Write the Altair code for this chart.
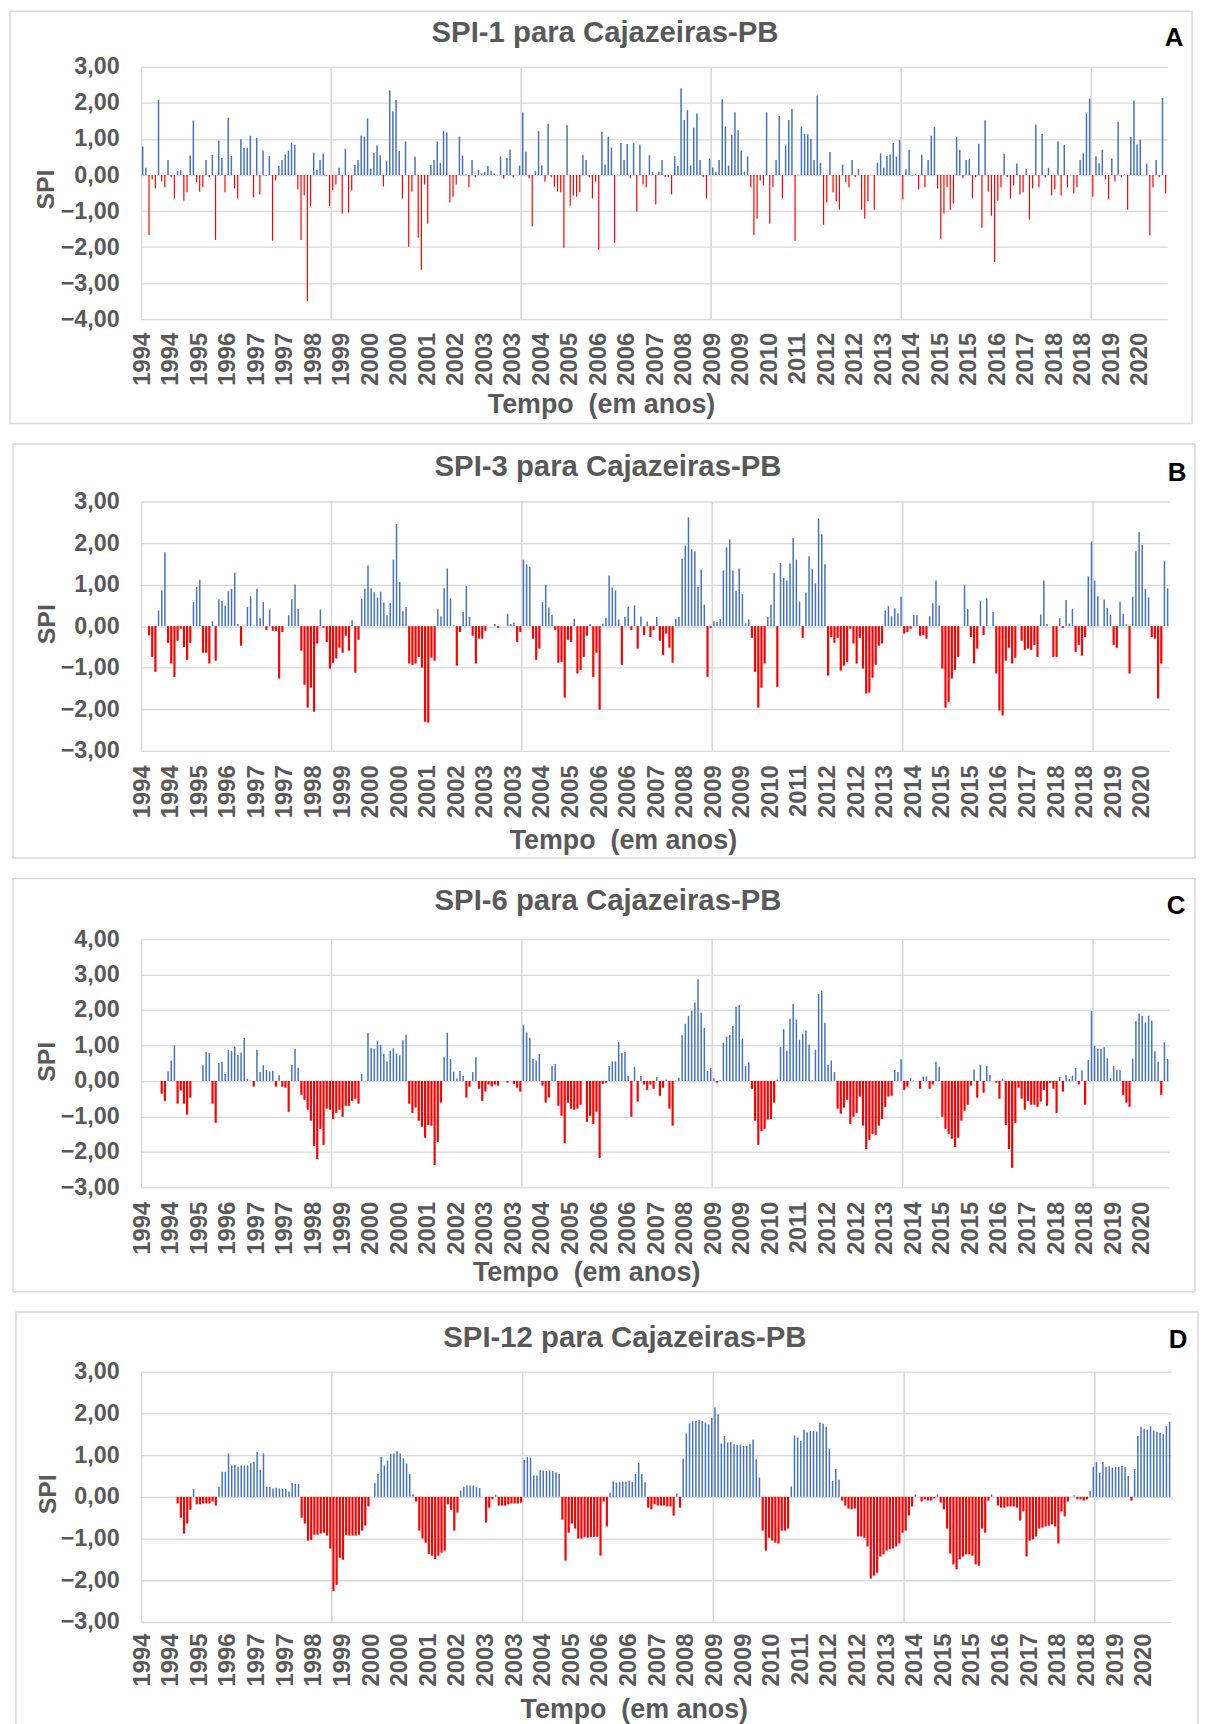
import json
import altair as alt
import pandas as pd

# ---------------- categories / tick labels ----------------
years = list(range(1994, 2021))
months = [f"{y}-{m:02d}" for y in years for m in range(1, 13)]  # 324 monthly categories
tick_months = months[::9]
tick_labels = ["1994", "1994", "1995", "1996", "1997", "1997", "1998", "1999", "2000",
               "2000", "2001", "2002", "2003", "2003", "2004", "2005", "2006", "2006",
               "2007", "2008", "2009", "2009", "2010", "2011", "2012", "2012", "2013",
               "2014", "2015", "2015", "2016", "2017", "2018", "2018", "2019", "2020"]
grid_months = ["1999-01", "2004-01", "2009-01", "2014-01", "2019-01"]

titles = ["SPI-1 para Cajazeiras-PB", "SPI-3 para Cajazeiras-PB",
          "SPI-6 para Cajazeiras-PB", "SPI-12 para Cajazeiras-PB"]
letters = ["A", "B", "C", "D"]
x_title = "Tempo \u00a0(em anos)"
y_title = "SPI"

N = None
# ---------------- series values ----------------
spi1 = [
    0.79, 0.20, -1.66, -0.12, -0.37, 2.09, -0.18, -0.34, 0.42, -0.06,
    -0.65, 0.12, 0.14, -0.71, -0.48, 0.54, 1.51, -0.20, -0.46, -0.34,
    0.42, -0.06, 0.56, -1.80, 0.96, 0.47, -0.48, 1.59, 0.53, -0.37,
    -0.65, 0.99, 0.75, 0.76, 1.09, -0.62, 1.03, -0.54, 0.68, -0.02,
    0.53, -1.82, -0.15, 0.25, 0.42, 0.57, 0.68, 0.90, 0.84, -0.40,
    -1.80, -0.57, -3.50, -0.87, 0.62, 0.14, 0.42, 0.59, -0.02, -0.86,
    -0.42, -0.26, 0.20, -1.07, 0.73, -1.04, -0.43, 0.28, 0.42, 1.10,
    1.07, 1.57, 0.18, 0.62, 0.82, 0.55, -0.32, 0.38, 2.35, 1.77,
    2.09, 0.67, -0.65, 0.93, -1.99, -0.46, 0.51, -1.74, -2.63, -0.26,
    -1.35, 0.28, 0.42, 0.93, 0.34, 1.23, 1.18, -0.76, -0.60, -0.26,
    1.07, 0.54, 0.02, -0.34, 0.42, -0.06, 0.14, 0.05, 0.08, 0.25,
    0.12, 0.04, 0.01, 0.52, -0.10, 0.47, 0.71, -0.06, 0.01, 0.26,
    1.74, 0.65, -0.09, -1.43, 0.11, 1.22, 0.27, -0.18, 1.42, -0.06,
    -0.32, -0.46, -0.48, -2.02, 1.38, -0.85, -0.57, -0.60, -0.48, 0.56,
    0.42, -0.06, -0.65, -0.18, -2.07, 1.20, 0.29, 1.07, 0.76, -1.88,
    0.01, 0.89, 0.42, 0.86, -0.09, 0.88, -1.01, 0.85, -0.26, -0.34,
    0.55, 0.09, -0.82, 0.09, 0.42, -0.06, -0.06, -0.54, 0.52, 0.26,
    2.41, 1.53, 1.80, 0.27, 1.31, 1.71, 0.42, -0.06, -0.65, 0.46,
    0.21, 0.09, 0.42, 2.10, 1.35, 0.26, 1.11, 1.74, 1.24, 0.68,
    0.09, 0.52, -0.34, -1.66, -1.21, -0.15, -0.29, 1.74, -1.35, -0.34,
    0.42, 1.64, -0.65, 0.82, 1.53, 1.83, -1.82, 0.01, 1.35, 1.14,
    1.13, 1.01, 0.42, 2.21, 0.34, -1.38, -0.76, 0.64, -0.48, -0.73,
    -0.96, 0.29, -0.20, -0.34, 0.42, -0.06, 0.17, -0.96, -1.21, -0.73,
    0.01, -0.96, 0.34, 0.60, 0.20, 0.53, 0.57, 0.89, 0.51, 0.97,
    -0.68, 0.16, 0.70, -0.02, 0.04, -0.40, 0.57, -0.34, 0.42, 1.09,
    1.33, -0.37, -1.77, -1.07, -0.34, -0.96, -0.79, 1.05, 0.70, -0.09,
    0.42, 0.44, -0.65, -0.06, 0.87, -1.46, 1.52, -0.46, -1.13, -2.41,
    -0.71, -0.34, 0.59, -0.06, -0.65, -0.29, 0.32, -0.54, -0.48, 0.17,
    -1.24, -0.37, 1.40, -0.34, 1.14, -0.06, 0.20, -0.57, -0.40, 0.93,
    -0.57, 0.84, -0.34, 0.01, -0.51, -0.34, 0.42, 0.60, 1.71, 2.12,
    -0.60, 0.52, 0.33, 0.70, -0.12, -0.68, 0.46, -0.18, 1.48, -0.06,
    0.02, -0.96, 1.06, 2.07, 0.85, 0.98, 0.01, 0.32, -1.68, -0.34,
    0.42, -0.06, 2.14, -0.51,
]

spi3 = [
    N, N, -0.22, -0.74, -1.10, 0.38, 0.86, 1.78, -0.40, -0.90,
    -1.22, -0.35, -0.06, -0.50, -0.81, -0.40, 0.58, 0.94, 1.12, -0.64,
    -0.64, -0.90, 0.12, -0.83, 0.65, 0.61, 0.50, 0.84, 0.90, 1.29,
    0.05, -0.47, 0.01, 0.46, 0.72, 0.01, 0.90, 0.19, 0.58, -0.09,
    0.40, -0.11, -0.11, -1.26, -0.14, 0.00, 0.26, 0.65, 1.00, 0.42,
    -0.59, -1.41, -1.96, -1.48, -2.06, -0.42, 0.40, -0.04, -0.38, -1.02,
    -0.88, -0.78, -0.52, -0.64, -0.23, -0.59, 0.14, -1.12, -0.33, 0.66,
    0.90, 1.46, 0.91, 0.82, 0.69, 0.83, 0.57, 0.26, 0.55, 1.60,
    2.46, 1.06, 0.36, 0.46, -0.90, -0.93, -0.90, -0.74, -1.00, -2.30,
    -2.32, -0.76, -0.83, 0.41, 0.24, 0.91, 1.39, 0.67, 0.02, -0.95,
    -0.14, 0.34, 0.97, 0.23, -0.23, -0.90, -0.30, -0.30, -0.11, 0.00,
    0.00, 0.05, -0.04, 0.00, 0.00, 0.30, 0.05, 0.09, -0.38, -0.14,
    1.60, 1.49, 1.43, -0.30, -0.81, -0.54, 0.58, 0.99, 0.45, 0.27,
    -0.09, -0.88, -0.86, -1.72, -0.33, -0.38, 0.18, -1.14, -1.05, -0.74,
    -0.23, 0.05, -1.22, -0.64, -2.01, 0.06, 0.20, 1.22, 0.93, 0.86,
    0.16, -0.93, 0.22, 0.47, -0.09, 0.50, -0.54, 0.23, -0.21, 0.11,
    -0.26, -0.09, 0.22, -0.35, -0.69, -0.18, -0.52, -0.88, 0.17, 0.22,
    1.62, 1.94, 2.62, 1.85, 1.80, 0.94, 1.36, 0.52, -1.22, -0.04,
    0.12, 0.10, 0.17, 1.34, 1.90, 2.09, 1.34, 0.85, 1.39, 0.77,
    0.07, 0.16, -0.28, -1.10, -1.96, -1.48, -0.90, 0.22, 0.52, 1.28,
    -1.46, 1.52, 1.16, 1.10, 1.51, 2.12, 1.60, 0.59, -0.28, 0.81,
    1.68, 1.37, 1.03, 2.59, 2.21, 1.49, -1.19, -0.26, -0.40, -0.28,
    -1.07, -0.95, -0.86, -0.06, -0.42, -0.90, -0.28, -1.02, -1.62, -1.60,
    -1.24, -0.93, -0.47, -0.42, 0.38, 0.48, 0.24, 0.43, 0.31, 0.71,
    -0.18, -0.14, -0.06, 0.26, 0.26, -0.23, -0.21, -0.30, 0.24, 0.55,
    1.10, 0.50, -1.02, -1.96, -1.82, -1.26, -1.05, -0.74, 0.00, 0.98,
    0.41, -0.26, -0.90, -0.54, 0.60, -0.21, 0.67, 0.00, 0.34, -1.14,
    -2.03, -2.15, -0.83, -0.52, -0.90, -0.76, 0.00, -0.35, -0.57, -0.54,
    -0.57, -0.45, -0.74, 0.28, 1.10, 0.05, 0.00, -0.74, -0.74, 0.19,
    -0.04, 0.63, 0.06, 0.42, -0.62, -0.45, -0.71, -0.26, 1.20, 2.04,
    1.10, 0.72, 0.00, 0.64, 0.44, 0.27, -0.45, -0.52, 0.59, 0.30,
    0.05, -1.14, 0.71, 1.80, 2.26, 1.96, 0.90, 0.69, -0.26, -0.30,
    -1.74, -0.90, 1.56, 0.91,
]

spi6 = [
    N, N, N, N, N, 0.00, -0.36, -0.56, 0.27, 0.58,
    1.00, -0.64, -0.27, -0.64, -0.95, -0.47, 0.00, 0.00, 0.00, 0.44,
    0.82, 0.79, -0.64, -1.18, 0.51, 0.54, 0.20, 0.88, 0.85, 0.97,
    0.73, 0.80, 1.21, 0.06, 0.01, -0.16, 0.88, 0.25, 0.44, 0.31,
    0.27, 0.29, -0.16, 0.16, -0.16, -0.19, -0.87, 0.45, 0.90, 0.37,
    -0.39, -0.53, -0.81, -1.12, -1.83, -2.20, -1.35, -1.80, -0.78, -0.81,
    -1.07, -0.90, -0.81, -1.01, -0.70, -0.70, -0.56, -0.50, -0.64, 0.20,
    0.00, 1.36, 0.93, 0.91, 1.12, 1.02, 0.77, 0.55, 0.85, 0.92,
    0.77, 0.72, 1.15, 1.31, -0.64, -0.90, -0.75, -1.12, -1.29, -1.60,
    -1.24, -1.26, -2.37, -1.72, -0.61, 0.67, 1.36, 0.62, 0.26, 0.07,
    0.28, 0.14, -0.47, -0.16, 0.25, 0.67, -0.22, -0.56, -0.30, -0.10,
    -0.16, -0.10, -0.13, 0.00, 0.00, -0.05, 0.00, -0.08, -0.19, -0.30,
    1.57, 1.37, 1.22, 0.62, 0.58, 0.76, -0.13, -0.61, -0.47, 0.42,
    0.48, -0.70, -0.98, -1.75, -0.61, -0.78, -0.81, -0.78, -0.67, 0.00,
    -1.15, -0.98, -1.21, -0.87, -2.17, -0.08, -0.05, 0.42, 0.55, 0.55,
    1.10, 0.79, 0.82, 0.14, -1.01, 0.40, -0.58, 0.14, -0.10, -0.25,
    -0.10, -0.22, 0.11, -0.42, -0.19, 0.04, -0.78, -1.26, 0.01, 0.09,
    1.29, 1.61, 1.83, 1.98, 2.21, 2.87, 1.92, 1.50, 0.28, 0.37,
    0.08, -0.05, 0.03, 1.08, 1.25, 1.30, 1.55, 2.09, 2.14, 1.20,
    0.42, 0.53, -0.22, -1.12, -1.80, -1.41, -1.35, -1.09, -1.07, -0.61,
    0.04, 0.95, 1.46, 0.85, 1.76, 2.18, 1.73, 1.16, 1.33, 1.42,
    1.03, 0.02, 0.88, 2.45, 2.54, 1.64, 0.46, 0.58, 0.25, -0.78,
    -0.92, -0.75, -0.53, -1.21, -1.01, -0.90, -0.44, -1.26, -1.92, -1.66,
    -1.49, -1.52, -1.26, -1.07, -0.73, -0.44, -0.42, 0.31, 0.25, 0.61,
    -0.25, -0.16, 0.08, 0.01, 0.00, -0.22, 0.12, 0.13, -0.22, -0.10,
    0.54, 0.40, -1.01, -1.35, -1.49, -1.63, -1.86, -1.60, -1.12, -0.84,
    -0.67, -0.13, 0.32, -0.47, 0.46, -0.33, 0.42, 0.17, 0.00, -0.05,
    -0.50, 0.06, -1.24, -1.92, -2.45, -1.18, -0.19, -0.50, -0.81, -0.56,
    -0.67, -0.67, -0.73, -0.58, -0.25, -0.70, -0.05, -0.22, -0.90, 0.11,
    -0.30, 0.16, 0.06, 0.15, 0.37, -0.10, 0.30, -0.67, 0.59, 1.97,
    0.99, 0.91, 0.91, 0.95, 0.64, 0.08, 0.42, 0.30, 0.30, -0.39,
    -0.61, -0.73, 0.63, 1.69, 1.90, 1.83, 1.65, 1.84, 1.70, 0.84,
    0.54, -0.39, 1.09, 0.62,
]

spi12 = [
    N, N, N, N, N, N, N, N, N, N,
    N, -0.16, -0.50, -0.88, -0.64, -0.31, 0.19, -0.18, -0.18, -0.16,
    -0.16, -0.16, -0.11, -0.21, 0.24, 0.60, 0.60, 1.04, 0.75, 0.76,
    0.72, 0.75, 0.75, 0.75, 0.80, 0.84, 1.08, 0.65, 1.04, 0.24,
    0.24, 0.20, 0.22, 0.20, 0.19, 0.19, 0.13, 0.33, 0.31, 0.31,
    -0.50, -0.64, -1.05, -1.03, -0.91, -0.91, -0.88, -0.86, -0.93, -1.24,
    -2.26, -2.11, -1.46, -1.51, -0.91, -0.93, -0.93, -0.93, -0.91, -0.81,
    -0.69, -0.23, 0.00, 0.33, 0.55, 0.96, 0.75, 0.87, 1.03, 1.04,
    1.09, 1.04, 0.92, 0.80, 0.55, 0.06, -0.11, -0.81, -1.00, -1.10,
    -1.37, -1.41, -1.49, -1.41, -1.34, -1.29, -0.18, -0.31, -0.81, -0.38,
    0.15, 0.24, 0.28, 0.27, 0.27, 0.23, 0.21, 0.00, -0.62, -0.26,
    -0.06, 0.05, -0.21, -0.21, -0.21, -0.18, -0.16, -0.16, -0.16, -0.14,
    0.88, 0.96, 0.94, 0.51, 0.51, 0.64, 0.63, 0.62, 0.63, 0.62,
    0.59, 0.55, -0.55, -1.53, -0.86, -0.64, -0.76, -1.00, -1.00, -0.96,
    -0.98, -0.96, -0.96, -0.96, -1.41, -0.11, -0.71, 0.10, 0.37, 0.34,
    0.35, 0.36, 0.36, 0.39, 0.36, 0.55, 0.81, 0.55, 0.35, -0.26,
    -0.30, -0.18, -0.21, -0.21, -0.21, -0.23, -0.23, -0.45, 0.08, -0.26,
    0.91, 1.52, 1.76, 1.81, 1.82, 1.84, 1.82, 1.78, 1.74, 1.89,
    2.14, 1.98, 1.28, 1.46, 1.30, 1.32, 1.26, 1.25, 1.25, 1.22,
    1.22, 1.27, 1.37, 0.90, 0.46, -0.81, -1.29, -0.98, -1.05, -1.10,
    -1.12, -0.81, -0.81, -0.76, 0.25, 1.47, 1.42, 1.34, 1.61, 1.55,
    1.58, 1.58, 1.56, 1.78, 1.75, 1.68, 1.14, 0.38, 0.67, 0.41,
    -0.09, -0.21, -0.28, -0.30, -0.28, -0.95, -0.95, -0.98, -1.19, -1.96,
    -1.89, -1.82, -1.43, -1.38, -1.29, -1.26, -1.24, -1.19, -1.12, -0.86,
    -0.81, -0.45, -0.23, 0.06, 0.00, -0.11, -0.06, -0.09, -0.09, -0.04,
    0.06, -0.14, -0.30, -0.76, -1.36, -1.62, -1.74, -1.50, -1.43, -1.38,
    -1.38, -1.41, -1.62, -1.65, -0.76, -0.86, -0.09, 0.06, 0.00, -0.21,
    -0.26, -0.26, -0.23, -0.23, -0.23, -0.26, -0.57, -0.35, -1.43, -1.05,
    -1.02, -0.95, -0.76, -0.74, -0.71, -0.69, -0.66, -0.71, -1.12, -0.35,
    -0.47, -0.11, 0.00, 0.04, -0.06, -0.06, -0.09, -0.06, 0.14, 0.72,
    0.83, 0.57, 0.84, 0.72, 0.73, 0.70, 0.72, 0.72, 0.74, 0.71,
    0.50, -0.09, 0.67, 1.46, 1.68, 1.63, 1.61, 1.69, 1.59, 1.56,
    1.54, 1.50, 1.70, 1.80,
]

y_domains = [(-4, 3), (-3, 3), (-3, 4), (-3, 3)]

# ---------------- styling ----------------
FONT = "Liberation Sans"
GRAY = "#595959"
LINE = "#d9d9d9"
BLUE = "#4472C4"
RED = "#FF0000"

# per-panel geometry (pixels, relative to each plot area)
geoms = [
    dict(w=1033, h=254, fx1=-132, fx2=1058, fy1=-56, fy2=359, tx=467, ty=-34, lx=1040, ly=-29,
         xtx=463, xty=86, ytx=-96, yty=123, lp=13, bw=1.5, rw=1.2),
    dict(w=1035, h=251, fx1=-129, fx2=1061, fy1=-58, fy2=359, tx=470, ty=-35, lx=1043, ly=-29,
         xtx=485, xty=90, ytx=-95, yty=123, lp=14, bw=1.5, rw=2.2),
    dict(w=1035, h=250, fx1=-129, fx2=1061, fy1=-61, fy2=355, tx=470, ty=-38, lx=1042, ly=-33,
         xtx=448, xty=86, ytx=-95, yty=123, lp=14, bw=1.5, rw=2.2),
    dict(w=1037, h=252, fx1=-126, fx2=1064, fy1=-60, fy2=366, tx=487, ty=-34, lx=1044, ly=-32,
         xtx=496, xty=88, ytx=-94, yty=123, lp=11, bw=1.5, rw=2.2),
]

label_expr = f"{json.dumps(tick_labels)}[indexof({json.dumps(tick_months)}, datum.value)]"


def make_panel(vals, title, letter, ydom, g):
    df = pd.DataFrame({"mes": months, "spi": vals}).dropna()
    xs = alt.Scale(domain=months, paddingInner=0, paddingOuter=0)
    ys = alt.Scale(domain=list(ydom), nice=False)
    xaxis = alt.Axis(
        values=tick_months, labelExpr=label_expr, labelAngle=270, labelAlign="right",
        labelBaseline="middle", labelFont=FONT, labelFontSize=24, labelFontWeight="bold",
        labelColor=GRAY, labelPadding=g["lp"], labelOverlap=False, labelFlush=False,
        ticks=False, tickSize=0, domain=False, grid=False,
        title=x_title, titleFont=FONT, titleFontSize=27, titleFontWeight="bold",
        titleColor=GRAY, titleX=g["xtx"], titleY=g["xty"], titleAlign="center",
        titleBaseline="middle",
    )
    yaxis = alt.Axis(
        values=list(range(ydom[0], ydom[1] + 1)),
        labelExpr="replace(format(datum.value, '.2f'), '.', ',')",
        labelFont=FONT, labelFontSize=23.5, labelFontWeight="bold", labelColor=GRAY,
        labelPadding=22, ticks=False, tickSize=0, domain=True, domainColor=LINE,
        domainWidth=1.3, grid=True, gridColor=LINE, gridWidth=1.3,
        title=y_title, titleFont=FONT, titleFontSize=25, titleFontWeight="bold",
        titleColor=GRAY, titleX=g["ytx"], titleY=g["yty"], titleAngle=270,
        titleAlign="center", titleBaseline="middle",
    )
    one = pd.DataFrame({"t": [title], "l": [letter]})

    frame = alt.Chart(one).mark_rect(fillOpacity=0, stroke=LINE, strokeWidth=1.5).encode(
        x=alt.value(g["fx1"]), x2=alt.value(g["fx2"]), y=alt.value(g["fy1"]), y2=alt.value(g["fy2"])
    )
    vgrid = alt.Chart(pd.DataFrame({"mes": grid_months})).mark_rule(
        color=LINE, strokeWidth=1.6
    ).encode(x=alt.X("mes:O", scale=xs, axis=xaxis, bandPosition=0))
    bars = alt.Chart(df).mark_bar().encode(
        x=alt.X("mes:O", scale=xs, axis=xaxis),
        y=alt.Y("spi:Q", scale=ys, axis=yaxis, stack=None),
        color=alt.when(alt.datum.spi > 0).then(alt.value(BLUE)).otherwise(alt.value(RED)),
        size=alt.when(alt.datum.spi > 0).then(alt.value(g["bw"])).otherwise(alt.value(g["rw"])),
    )
    ttl = alt.Chart(one).mark_text(
        font=FONT, fontSize=29.5, fontWeight="bold", color=GRAY, align="center", baseline="middle"
    ).encode(text="t:N", x=alt.value(g["tx"]), y=alt.value(g["ty"]))
    let = alt.Chart(one).mark_text(
        font=FONT, fontSize=26, fontWeight="bold", color="#000000", align="center", baseline="middle"
    ).encode(text="l:N", x=alt.value(g["lx"]), y=alt.value(g["ly"]))
    return alt.layer(frame, vgrid, bars, ttl, let).properties(width=g["w"], height=g["h"])


panels = [make_panel(v, t, l, d, g) for v, t, l, d, g in
          zip([spi1, spi3, spi6, spi12], titles, letters, y_domains, geoms)]

chart = alt.vconcat(*panels, spacing=16.5).properties(
    padding={"left": 0, "top": -4.5, "right": 0, "bottom": 0},
    background="white",
).configure_view(stroke="transparent")

chart.save("out.html", embed_options={"renderer": "svg", "actions": False})
